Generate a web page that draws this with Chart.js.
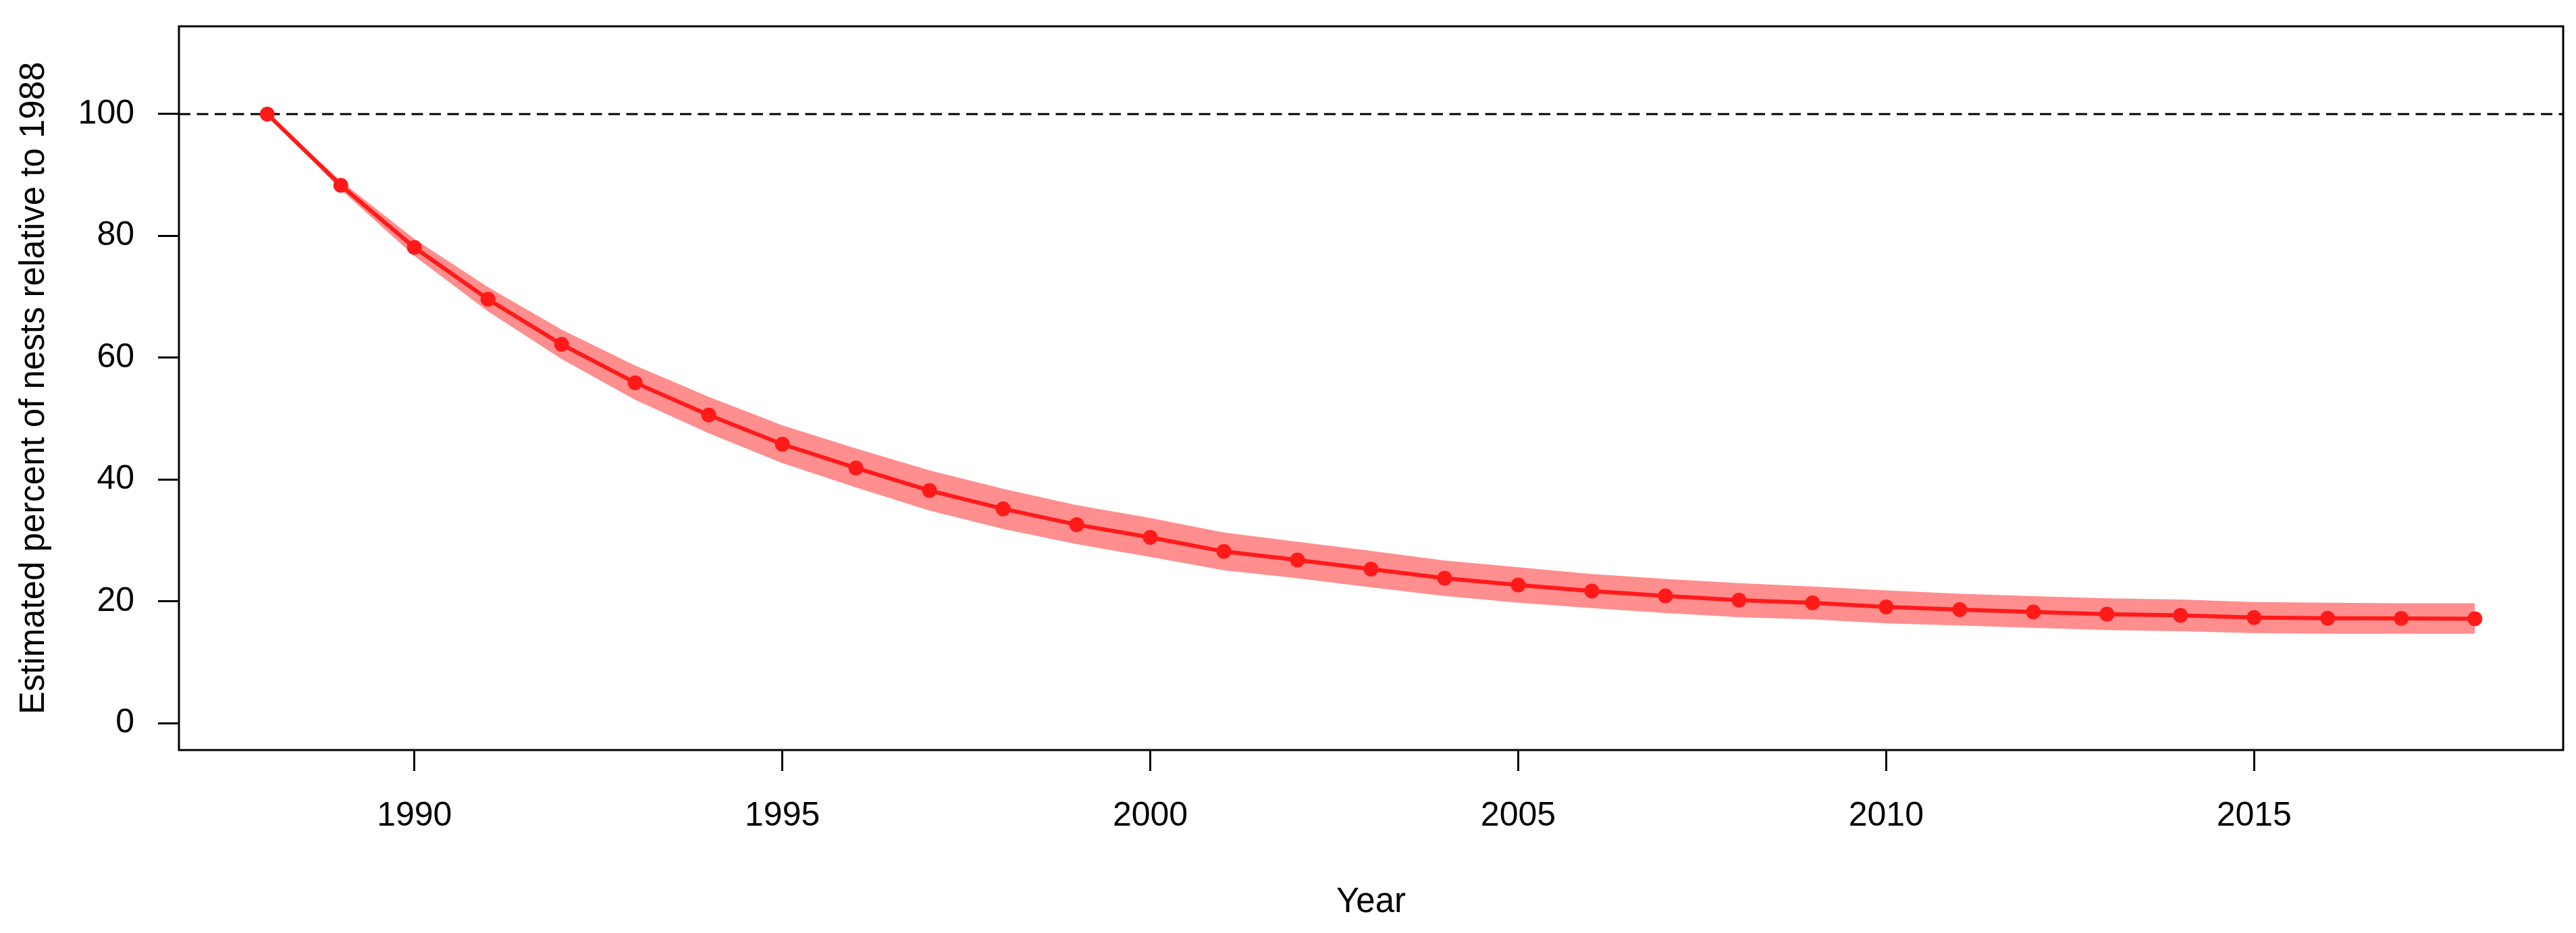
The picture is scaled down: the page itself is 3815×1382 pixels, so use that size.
<!DOCTYPE html>
<html>
<head>
<meta charset="utf-8">
<script src="https://cdn.jsdelivr.net/npm/chart.js@4/dist/chart.umd.min.js"></script>
<style>
  html, body { margin: 0; padding: 0; background: #ffffff; }
  #wrap { width: 3815px; height: 1382px; }
</style>
</head>
<body>
<div id="wrap"><canvas id="c" width="3815" height="1382"></canvas></div>
<script>
// ---- data ----
const years = [1988, 1989, 1990, 1991, 1992, 1993, 1994, 1995, 1996, 1997, 1998, 1999, 2000, 2001, 2002, 2003,
               2004, 2005, 2006, 2007, 2008, 2009, 2010, 2011, 2012, 2013, 2014, 2015, 2016, 2017, 2018];
const estimate = [100, 88.3, 78.1, 69.6, 62.2, 55.9, 50.6, 45.8, 41.9, 38.2, 35.2, 32.6, 30.5, 28.2, 26.8, 25.3,
                  23.8, 22.7, 21.7, 20.9, 20.2, 19.75, 19.1, 18.65, 18.27, 17.9, 17.7, 17.35, 17.24, 17.2, 17.16];
const upperCI = [100, 89.0, 79.5, 71.6, 64.6, 58.7, 53.6, 48.9, 45.1, 41.5, 38.5, 35.8, 33.7, 31.3, 29.8, 28.3,
                 26.7, 25.6, 24.5, 23.7, 23.0, 22.45, 21.8, 21.25, 20.87, 20.5, 20.3, 19.9, 19.8, 19.7, 19.7];
const lowerCI = [100, 87.6, 76.7, 67.6, 59.8, 53.1, 47.6, 42.7, 38.7, 34.9, 31.9, 29.4, 27.3, 25.1, 23.8, 22.3,
                 20.9, 19.8, 18.9, 18.1, 17.4, 17.05, 16.4, 16.05, 15.67, 15.3, 15.1, 14.8, 14.7, 14.7, 14.7];
const xTicks = [1990, 1995, 2000, 2005, 2010, 2015];
const yTicks = [0, 20, 40, 60, 80, 100];
const refLevel = 100;
const xLabel = 'Year';
const yLabel = 'Estimated percent of nests relative to 1988';

// ---- styling ----
const FONT = '"Liberation Sans", Arial, Helvetica, sans-serif';
const lineColor = 'rgb(255,26,26)';
const bandColor = 'rgb(255,142,142)';

const toPts = arr => years.map((y, i) => ({ x: y, y: arr[i] }));

const framePlugin = {
  id: 'frameAndRef',
  beforeDatasetsDraw(chart) {
    const { ctx, chartArea, scales } = chart;
    const yp = scales.y.getPixelForValue(refLevel);
    ctx.save();
    ctx.strokeStyle = '#000';
    ctx.lineWidth = 3;
    ctx.setLineDash([17, 9.5]);
    ctx.beginPath();
    ctx.moveTo(chartArea.left, yp);
    ctx.lineTo(chartArea.right, yp);
    ctx.stroke();
    ctx.restore();
  },
  afterDraw(chart) {
    const { ctx, chartArea } = chart;
    ctx.save();
    ctx.strokeStyle = '#000';
    ctx.lineWidth = 3;
    ctx.strokeRect(chartArea.left, chartArea.top, chartArea.right - chartArea.left, chartArea.bottom - chartArea.top);
    ctx.restore();
  }
};

new Chart(document.getElementById('c'), {
  type: 'line',
  data: {
    datasets: [
      {
        label: 'Estimate',
        data: toPts(estimate),
        borderColor: lineColor,
        backgroundColor: lineColor,
        borderWidth: 6,
        pointRadius: 11,
        pointHoverRadius: 11,
        pointBorderWidth: 0,
        pointBackgroundColor: lineColor,
        tension: 0,
        fill: false,
        order: 0
      },
      {
        label: 'Upper',
        data: toPts(upperCI),
        borderWidth: 0,
        borderColor: 'rgba(0,0,0,0)',
        pointRadius: 0,
        backgroundColor: bandColor,
        fill: '+1',
        tension: 0,
        order: 1
      },
      {
        label: 'Lower',
        data: toPts(lowerCI),
        borderWidth: 0,
        borderColor: 'rgba(0,0,0,0)',
        pointRadius: 0,
        backgroundColor: bandColor,
        fill: false,
        tension: 0,
        order: 2
      }
    ]
  },
  options: {
    responsive: false,
    animation: false,
    devicePixelRatio: 1,
    layout: { padding: { top: 39, right: 19, bottom: 0, left: 0 } },
    plugins: {
      legend: { display: false },
      tooltip: { enabled: false },
      title: { display: false }
    },
    scales: {
      x: {
        type: 'linear',
        min: 1986.8,
        max: 2019.2,
        afterBuildTicks(scale) { scale.ticks = xTicks.map(v => ({ value: v })); },
        afterFit(scale) { scale.height = 271; scale.paddingLeft = 0; scale.paddingRight = 0; },
        border: { display: false },
        grid: {
          drawOnChartArea: false,
          drawTicks: true,
          tickLength: 31,
          tickWidth: 3,
          tickColor: '#000',
          lineWidth: 3,
          color: '#000'
        },
        ticks: {
          color: '#000',
          padding: 37,
          maxRotation: 0,
          autoSkip: false,
          font: { family: FONT, size: 50 },
          callback: v => String(v)
        },
        title: {
          display: true,
          text: xLabel,
          color: '#000',
          font: { family: FONT, size: 51 },
          padding: { top: 0, bottom: 14 }
        }
      },
      y: {
        type: 'linear',
        min: -4.4,
        max: 114.4,
        afterBuildTicks(scale) { scale.ticks = yTicks.map(v => ({ value: v })); },
        afterFit(scale) { scale.width = 265; scale.paddingTop = 0; scale.paddingBottom = 0; },
        border: { display: false },
        grid: {
          drawOnChartArea: false,
          drawTicks: true,
          tickLength: 31,
          tickWidth: 3,
          tickColor: '#000',
          lineWidth: 3,
          color: '#000'
        },
        ticks: {
          color: '#000',
          padding: 35,
          autoSkip: false,
          font: { family: FONT, size: 50 },
          callback: v => String(v)
        },
        title: {
          display: true,
          text: yLabel,
          color: '#000',
          font: { family: FONT, size: 51 },
          padding: { top: 20, bottom: 0 }
        }
      }
    }
  },
  plugins: [framePlugin]
});
</script>
</body>
</html>
